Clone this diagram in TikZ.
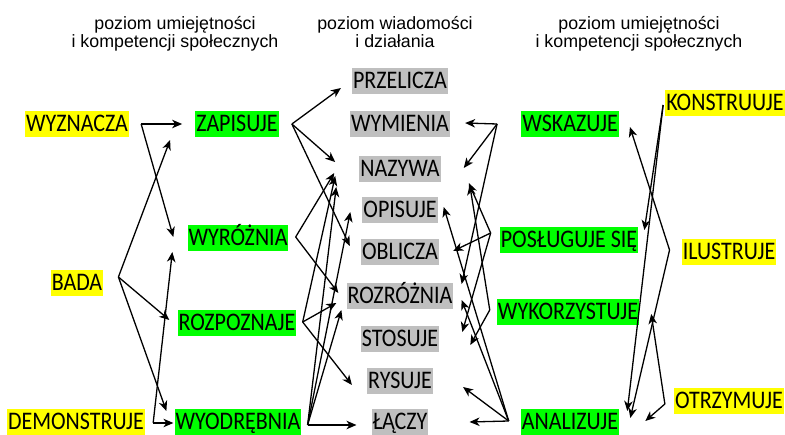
\documentclass[tikz,border=0pt]{standalone}
\usepackage{fontspec}
\setmainfont{Carlito}
\newfontfamily\headfont{Liberation Sans}
\usetikzlibrary{arrows.meta}
\definecolor{hlyellow}{RGB}{255,255,0}
\definecolor{hlgreen}{RGB}{0,255,0}
\definecolor{hlgray}{RGB}{191,191,191}
\newcommand{\lbtext}[1]{\scalebox{1}[1.15]{#1}}
\tikzset{
  lbl/.style={inner xsep=1pt, inner ysep=0pt, minimum height=26pt, text height=17pt, text depth=1pt, font=\fontsize{22}{26}\selectfont},
  yel/.style={lbl, fill=hlyellow},
  grn/.style={lbl, fill=hlgreen},
  gry/.style={lbl, fill=hlgray},
  head/.style={align=center, inner sep=0pt, font=\headfont\fontsize{17.8}{16.5}\selectfont},
  arr/.style={-{Stealth[length=10pt,width=8.5pt,inset=3pt]}, line width=1.3pt}
}

\begin{document}
\begin{tikzpicture}[x=1pt,y=-1pt]
    \useasboundingbox (0,0) rectangle (785,435);
    \fill[white] (0,0) rectangle (785,435);

    \node[head] (hleft) at (175,33.5) {poziom umiejętności\\i kompetencji społecznych};
    \node[head] (hmid) at (395,32) {poziom wiadomości\\i działania};
    \node[head] (hright) at (639,33.5) {poziom umiejętności\\i kompetencji społecznych};

    \node[yel] (wyznacza) at (77,124) {\lbtext{WYZNACZA}};
    \node[yel] (bada) at (77,283) {\lbtext{BADA}};
    \node[yel] (demonstruje) at (76,422) {\lbtext{DEMONSTRUJE}};

    \node[grn] (zapisuje) at (237,124) {\lbtext{ZAPISUJE}};
    \node[grn] (wyroznia) at (238,238) {\lbtext{WYRÓŻNIA}};
    \node[grn] (rozpoznaje) at (237,323) {\lbtext{ROZPOZNAJE}};
    \node[grn] (wyodrebnia) at (238,422) {\lbtext{WYODRĘBNIA}};

    \node[gry] (przelicza) at (400,81) {\lbtext{PRZELICZA}};
    \node[gry] (wymienia) at (400,124) {\lbtext{WYMIENIA}};
    \node[gry] (nazywa) at (400,169) {\lbtext{NAZYWA}};
    \node[gry] (opisuje) at (400,210) {\lbtext{OPISUJE}};
    \node[gry] (oblicza) at (400,252) {\lbtext{OBLICZA}};
    \node[gry] (rozroznia) at (400,296) {\lbtext{ROZRÓŻNIA}};
    \node[gry] (stosuje) at (400,339) {\lbtext{STOSUJE}};
    \node[gry] (rysuje) at (400,381) {\lbtext{RYSUJE}};
    \node[gry] (laczy) at (400,422) {\lbtext{ŁĄCZY}};

    \node[grn] (wskazuje) at (570,124) {\lbtext{WSKAZUJE}};
    \node[grn] (posluguje) at (569,240) {\lbtext{POSŁUGUJE SIĘ}};
    \node[grn] (wykorzystuje) at (568,312) {\lbtext{WYKORZYSTUJE}};
    \node[grn] (analizuje) at (570,422) {\lbtext{ANALIZUJE}};

    \node[yel] (konstruuje) at (725,103) {\lbtext{KONSTRUUJE}};
    \node[yel] (ilustruje) at (729,252) {\lbtext{ILUSTRUJE}};
    \node[yel] (otrzymuje) at (729,401) {\lbtext{OTRZYMUJE}};

    \coordinate (wyznacza-o) at ([shift={(12,0)}]wyznacza.east);
    \coordinate (bada-o) at ([shift={(15,-6)}]bada.east);
    \coordinate (demonstruje-o) at ([shift={(8,1)}]demonstruje.east);
    \coordinate (zapisuje-o) at ([shift={(13,0)}]zapisuje.east);
    \coordinate (wyroznia-o) at ([shift={(7,-1)}]wyroznia.east);
    \coordinate (rozpoznaje-o) at ([shift={(6,-1)}]rozpoznaje.east);
    \coordinate (wyodrebnia-o) at ([shift={(6,3)}]wyodrebnia.east);
    \coordinate (wskazuje-o) at ([shift={(-24,0)}]wskazuje.west);
    \coordinate (posluguje-o) at ([shift={(-9,-7)}]posluguje.west);
    \coordinate (wykorzystuje-o) at ([shift={(-7,-2)}]wykorzystuje.west);
    \coordinate (analizuje-o) at ([shift={(-12,-1)}]analizuje.west);
    \coordinate (konstruuje-o) at ([shift={(-2,2)}]konstruuje.west);
    \coordinate (ilustruje-o) at ([shift={(-12,-2)}]ilustruje.west);
    \coordinate (otrzymuje-o) at ([shift={(-9,3)}]otrzymuje.west);

    \draw[arr] (wyznacza-o) -- ([shift={(-13,0)}]zapisuje.west);
    \draw[arr] (wyznacza-o) -- ([shift={(-14,-1)}]wyroznia.west);
    \draw[arr] (bada-o) -- ([shift={(-25,16)}]zapisuje.west);
    \draw[arr] (bada-o) -- ([shift={(-8,-3)}]rozpoznaje.west);
    \draw[arr] (bada-o) -- ([shift={(-8,-11)}]wyodrebnia.west);
    \draw[arr] (demonstruje-o) -- ([shift={(-1,1)}]wyodrebnia.west);
    \draw[arr] (demonstruje-o) -- ([shift={(-15,14)}]wyroznia.west);

    \draw[arr] (zapisuje-o) -- ([shift={(-11,7)}]przelicza.west);
    \draw[arr] (zapisuje-o) -- ([shift={(-24,-7)}]nazywa.west);
    \draw[arr] (zapisuje-o) -- ([shift={(-11,-6)}]oblicza.west);
    \draw[arr] (wyroznia-o) -- ([shift={(-25,4)}]nazywa.west);
    \draw[arr] (wyroznia-o) -- ([shift={(-8,-3)}]rozroznia.west);
    \draw[arr] (rozpoznaje-o) -- ([shift={(-24,7)}]nazywa.west);
    \draw[arr] (rozpoznaje-o) -- ([shift={(-10,7)}]rozroznia.west);
    \draw[arr] (rozpoznaje-o) -- ([shift={(-15,4)}]rysuje.west);
    \draw[arr] (wyodrebnia-o) -- ([shift={(-23,18)}]nazywa.west);
    \draw[arr] (wyodrebnia-o) -- ([shift={(-12,2)}]opisuje.west);
    \draw[arr] (wyodrebnia-o) -- ([shift={(-5,14)}]rozroznia.west);
    \draw[arr] (wyodrebnia-o) -- ([shift={(-15,3)}]laczy.west);

    \draw[arr] (wskazuje-o) -- ([shift={(15,-1)}]wymienia.east);
    \draw[arr] (wskazuje-o) -- ([shift={(23,-1)}]nazywa.east);
    \draw[arr] (wskazuje-o) -- ([shift={(8,-12)}]rozroznia.east);
    \draw[arr] (posluguje-o) -- ([shift={(28,14)}]nazywa.east);
    \draw[arr] (posluguje-o) -- ([shift={(14,-1)}]oblicza.east);
    \draw[arr] (posluguje-o) -- ([shift={(23,-7)}]stosuje.east);
    \draw[arr] (wykorzystuje-o) -- ([shift={(29,16)}]nazywa.east);
    \draw[arr] (wykorzystuje-o) -- ([shift={(31,6)}]stosuje.east);
    \draw[arr] (analizuje-o) -- ([shift={(6,-3)}]opisuje.east);
    \draw[arr] (analizuje-o) -- ([shift={(8,4)}]rozroznia.east);
    \draw[arr] (analizuje-o) -- ([shift={(30,6)}]rysuje.east);
    \draw[arr] (analizuje-o) -- ([shift={(41,0)}]laczy.east);

    \draw[arr] (konstruuje-o) -- ([shift={(6,-10)}]posluguje.east);
    \draw[arr] (konstruuje-o) -- ([shift={(8,-11)}]analizuje.east);
    \draw[arr] (ilustruje-o) -- ([shift={(11,3)}]wskazuje.east);
    \draw[arr] (ilustruje-o) -- ([shift={(11,-4)}]analizuje.east);
    \draw[arr] (otrzymuje-o) -- ([shift={(12,2)}]wykorzystuje.east);
    \draw[arr] (otrzymuje-o) -- ([shift={(26,-1)}]analizuje.east);
\end{tikzpicture}
\end{document}
